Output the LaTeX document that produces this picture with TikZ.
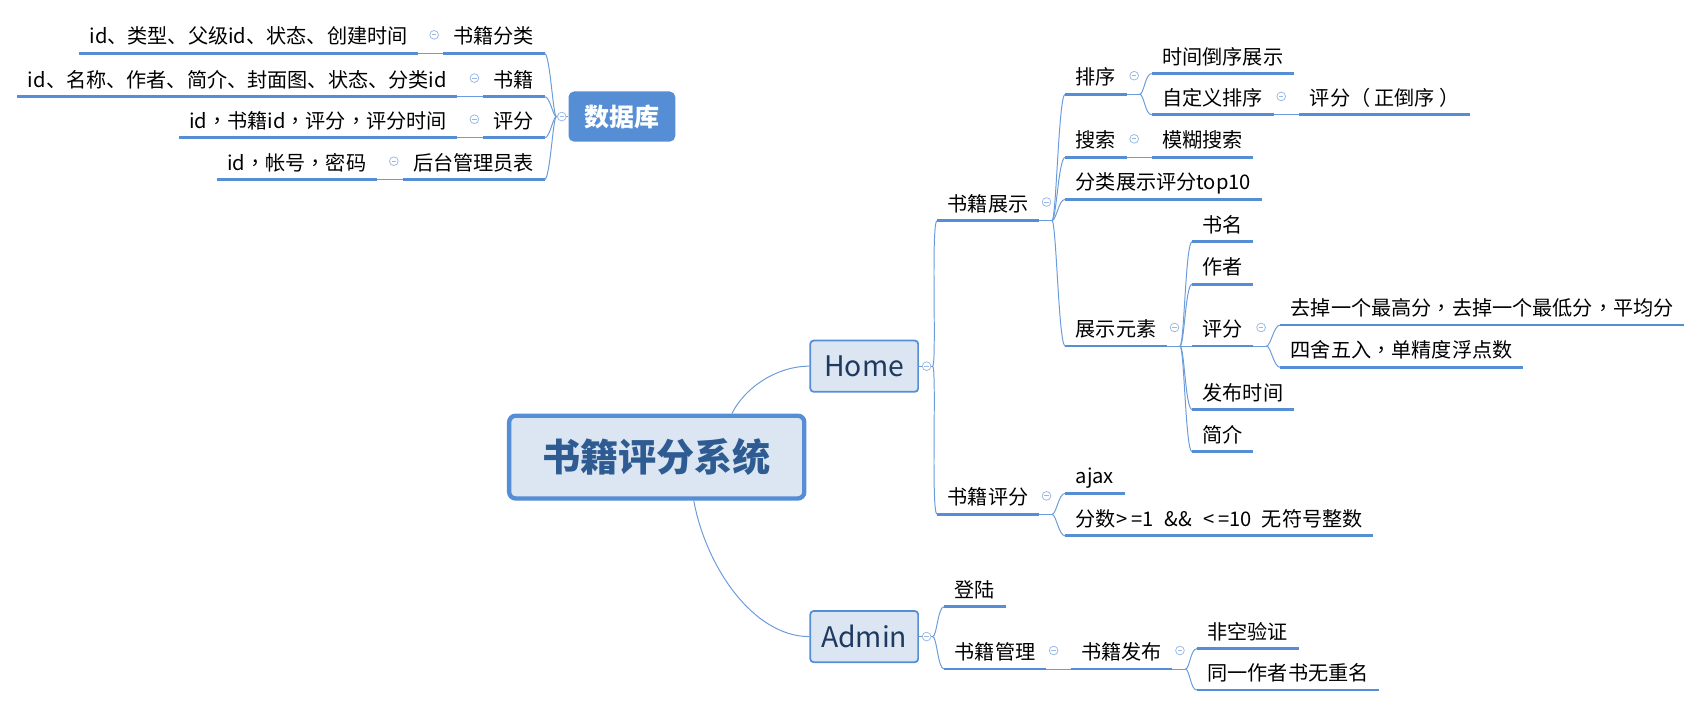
\documentclass[tikz,border=0pt]{standalone}
\usepackage{fontspec}
\setmainfont{Noto Sans CJK SC}
\newfontfamily\tcfont{Noto Sans CJK TC}
\newcommand{\dou}{{\tcfont ，}}
\usetikzlibrary{calc}
\definecolor{lineblue}{HTML}{558ED5}
\definecolor{curveblue}{HTML}{6A9BDB}
\definecolor{collblue}{HTML}{9AB8E4}
\definecolor{boxfill}{HTML}{DCE6F2}
\definecolor{titleblue}{HTML}{2E5C92}
\definecolor{homeblue}{HTML}{1F3A60}
\tikzset{
  topic/.style={font=\fontsize{18.5}{22}\selectfont, inner xsep=9.5pt, inner ysep=0pt,
    text height=14pt, text depth=8.5pt, anchor=south west, text=black},
  ltopic/.style={topic, anchor=south east},
  uline/.style={lineblue, line width=2.6pt},
  conn/.style={curveblue, line width=0.9pt},
  coll/.style={circle, draw=collblue, fill=white, line width=0.7pt, minimum size=8pt, inner sep=0pt,
    path picture={\draw[collblue, line width=0.7pt] ([xshift=-2pt]path picture bounding box.center) -- ([xshift=2pt]path picture bounding box.center);}},
  subbox/.style={draw=lineblue, line width=1.6pt, fill=boxfill, rounded corners=3pt,
    minimum width=99pt, minimum height=47pt, inner sep=0pt, font=\fontsize{26}{30}\selectfont, text=homeblue},
  centralbox/.style={draw=lineblue, line width=4pt, fill=boxfill, rounded corners=6pt,
    minimum width=271pt, minimum height=76pt, inner sep=0pt, font=\bfseries\fontsize{35}{40}\selectfont, text=titleblue},
  dbbox/.style={fill=lineblue, rounded corners=5pt, minimum width=98pt, minimum height=46pt,
    inner sep=0pt, font=\bfseries\fontsize{23}{28}\selectfont, text=white},
}
\begin{document}
\begin{tikzpicture}[x=1pt,y=-1pt]
\useasboundingbox (0,0) rectangle (1560,649);

% ---------- main boxes ----------
\node[centralbox] (center) at (603,419.7) {书籍评分系统};
\node[subbox] (home) at (793.5,336.2) {Home};
\node[subbox] (admin) at (793.5,584.5) {Admin};
\node[dbbox] (db) at (571,107) {数据库};

% ---------- right side topics ----------
\node[topic] (zs)  at (860.5,202.5) {书籍展示};
\node[topic] (px)  at (978,86.5)    {排序};
\node[topic] (sj)  at (1057.5,67.5) {时间倒序展示};
\node[topic] (zdy) at (1057.5,105.5){自定义排序};
\node[topic] (pfz) at (1193,105.5)  {评分{\tcfont （}\hspace{4pt}正倒序\hspace{4pt}{\tcfont ）}};
\node[topic] (ss)  at (978,144.5)   {搜索};
\node[topic] (mh)  at (1057.5,144.5){模糊搜索};
\node[topic] (top) at (978,183)     {分类展示评分top10};
\node[topic] (ys)  at (978,317.7)   {展示元素};
\node[topic] (sm)  at (1094.5,222)  {书名};
\node[topic] (zz)  at (1094.5,261)  {作者};
\node[topic] (pf)  at (1094.5,317.7){评分};
\node[topic] (qd)  at (1175.5,298.4){去掉一个最高分\dou 去掉一个最低分\dou 平均分};
\node[topic] (sw)  at (1175.5,337.3){四舍五入\dou 单精度浮点数};
\node[topic] (fb)  at (1094.5,376)  {发布时间};
\node[topic] (jj)  at (1094.5,414.8){简介};
\node[topic] (sp)  at (860.5,472.3) {书籍评分};
\node[topic] (aj)  at (978,453)     {ajax};
\node[topic] (fs)  at (978,492)     {分数>\hspace{4pt}=1\hspace{10pt}\&\&\hspace{10pt}<\hspace{4pt}=10\hspace{9pt}无符号整数};
\node[topic] (dl)  at (867,557)     {登陆};
\node[topic] (gl)  at (867,614.3)   {书籍管理};
\node[topic] (fbu) at (983,614.3)   {书籍发布};
\node[topic] (fk)  at (1099,595.6)  {非空验证};
\node[topic] (tm)  at (1099,633.6)  {同一作者书无重名};

% ---------- left side topics ----------
\node[ltopic] (db1)  at (500,49)    {书籍分类};
\node[ltopic] (db1c) at (384,49)    {id、类型、父级id、状态、创建时间};
\node[ltopic] (db2)  at (500,88.7)  {书籍};
\node[ltopic] (db2c) at (420,88.7)  {id、名称、作者、简介、封面图、状态、分类id};
\node[ltopic] (db3)  at (500,126.5) {评分};
\node[ltopic] (db3c) at (420,126.5) {id\dou 书籍id\dou 评分\dou 评分时间};
\node[ltopic] (db4)  at (500,165)   {后台管理员表};
\node[ltopic] (db4c) at (346,165)   {id\dou 帐号\dou 密码};

% ---------- underlines ----------
\foreach \n in {zs,px,sj,zdy,pfz,ss,mh,top,ys,sm,zz,pf,qd,sw,fb,jj,sp,aj,fs,dl,gl,fbu,fk,tm,
                db1,db1c,db2,db2c,db3,db3c,db4,db4c}
  \draw[uline] (\n.south west) -- (\n.south east);

% ---------- branch points ----------
\coordinate (homeb) at ($(home.east)+(12.5,0)$);
\coordinate (adminb) at ($(admin.east)+(12.5,0)$);
\coordinate (zsb) at ($(zs.south east)+(12,0)$);
\coordinate (pxb) at ($(px.south east)+(12,0)$);
\coordinate (ysb) at ($(ys.south east)+(12,0)$);
\coordinate (pfb) at ($(pf.south east)+(12,0)$);
\coordinate (spb) at ($(sp.south east)+(12,0)$);
\coordinate (fbub) at ($(fbu.south east)+(12,0)$);
\coordinate (dbb) at ($(db.west)+(-11,0)$);
\coordinate (ctop) at ($(center.north west)+(206.5,0)$);
\coordinate (cbot) at ($(center.south west)+(171.5,0)$);

% ---------- connectors ----------
\draw[conn] (ctop) .. controls +(12,-24) and +(-30,0) .. (home.west);
\draw[conn] (cbot) .. controls +(11,60) and +(-52,0) .. (admin.west);

\draw[conn] (home.east) -- (homeb);
\draw[conn] (admin.east) -- (adminb);
\draw[conn] (db.west) -- (dbb);
\foreach \a/\b in {zs/zsb,px/pxb,ys/ysb,pf/pfb,sp/spb,fbu/fbub}
  \draw[conn] (\a.south east) -- (\b);

\foreach \p/\c in {homeb/zs,homeb/sp,zsb/px,zsb/ss,zsb/top,zsb/ys,pxb/sj,pxb/zdy,
                   ysb/sm,ysb/zz,ysb/pf,ysb/fb,ysb/jj,pfb/qd,pfb/sw,spb/aj,spb/fs,
                   adminb/dl,adminb/gl,fbub/fk,fbub/tm}
  \draw[conn] (\p) .. controls +(4,0) and +(-6,0) .. (\c.south west);

\foreach \c in {db1,db2,db3,db4}
  \draw[conn] (dbb) .. controls +(-3,0) and +(5,0) .. (\c.south east);

\draw[conn] (zdy.south east) -- (pfz.south west);
\draw[conn] (ss.south east) -- (mh.south west);
\draw[conn] (gl.south east) -- (fbu.south west);
\foreach \a/\b in {db1/db1c,db2/db2c,db3/db3c,db4/db4c}
  \draw[conn] (\a.south west) -- (\b.south east);

% ---------- collapse markers ----------
\node[coll] (chome) at ($(home.east)+(7,0)$) {};
\node[coll] (cadmin) at ($(admin.east)+(7,0)$) {};
\node[coll] (cdb) at ($(db.west)+(-6,0)$) {};
\foreach \n in {zs,px,zdy,ss,ys,pf,sp,gl,fbu}
  \node[coll] (c\n) at ($(\n.south east)+(7,-17)$) {};
\foreach \n in {db1,db2,db3,db4}
  \node[coll] (c\n) at ($(\n.south west)+(-8,-17)$) {};
\end{tikzpicture}
\end{document}
